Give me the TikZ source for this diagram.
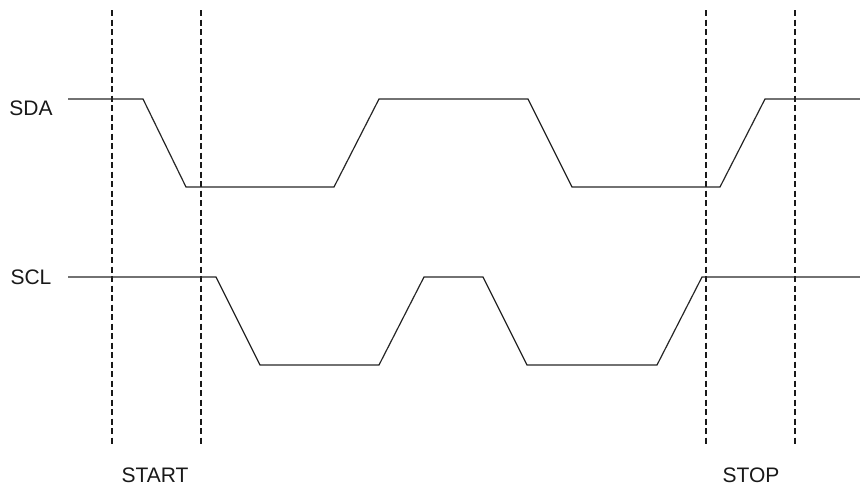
\documentclass[tikz,border=0pt]{standalone}
\usepackage{fontspec}
\setmainfont{Liberation Sans}
\begin{document}
\begin{tikzpicture}[x=1pt,y=-1pt,
  wave/.style={line width=1.2pt, color=black!85, line join=miter},
  guide/.style={line width=1.1pt, dash pattern=on 6pt off 3.5pt, color=black!90},
  lbl/.style={font=\fontsize{21}{25}\selectfont, inner sep=0pt, text=black!90}]
\useasboundingbox (0,0) rectangle (860,491);
% guides
\foreach \n/\x in {g1/112, g2/201, g3/706, g4/795}{
  \coordinate (\n t) at (\x,10);
  \coordinate (\n b) at (\x,447);
  \draw[guide] (\n t) -- (\n b);
}
% labels
\node[lbl] (sda) at (31,108) {SDA};
\node[lbl] (scl) at (31,277) {SCL};
\node[lbl] (start) at (155,475) {START};
\node[lbl] (stop) at (751,475) {STOP};
% SDA
\draw[wave] (68,99) -- (143,99) -- (186,187) -- (334,187) -- (379,99) -- (528,99)
  -- (572,187) -- (720,187) -- (765,99) -- (860,99);
% SCL
\draw[wave] (68,277) -- (216,277) -- (260,365) -- (379,365) -- (424,277) -- (483,277)
  -- (527,365) -- (657,365) -- (702,277) -- (860,277);
\end{tikzpicture}
\end{document}
